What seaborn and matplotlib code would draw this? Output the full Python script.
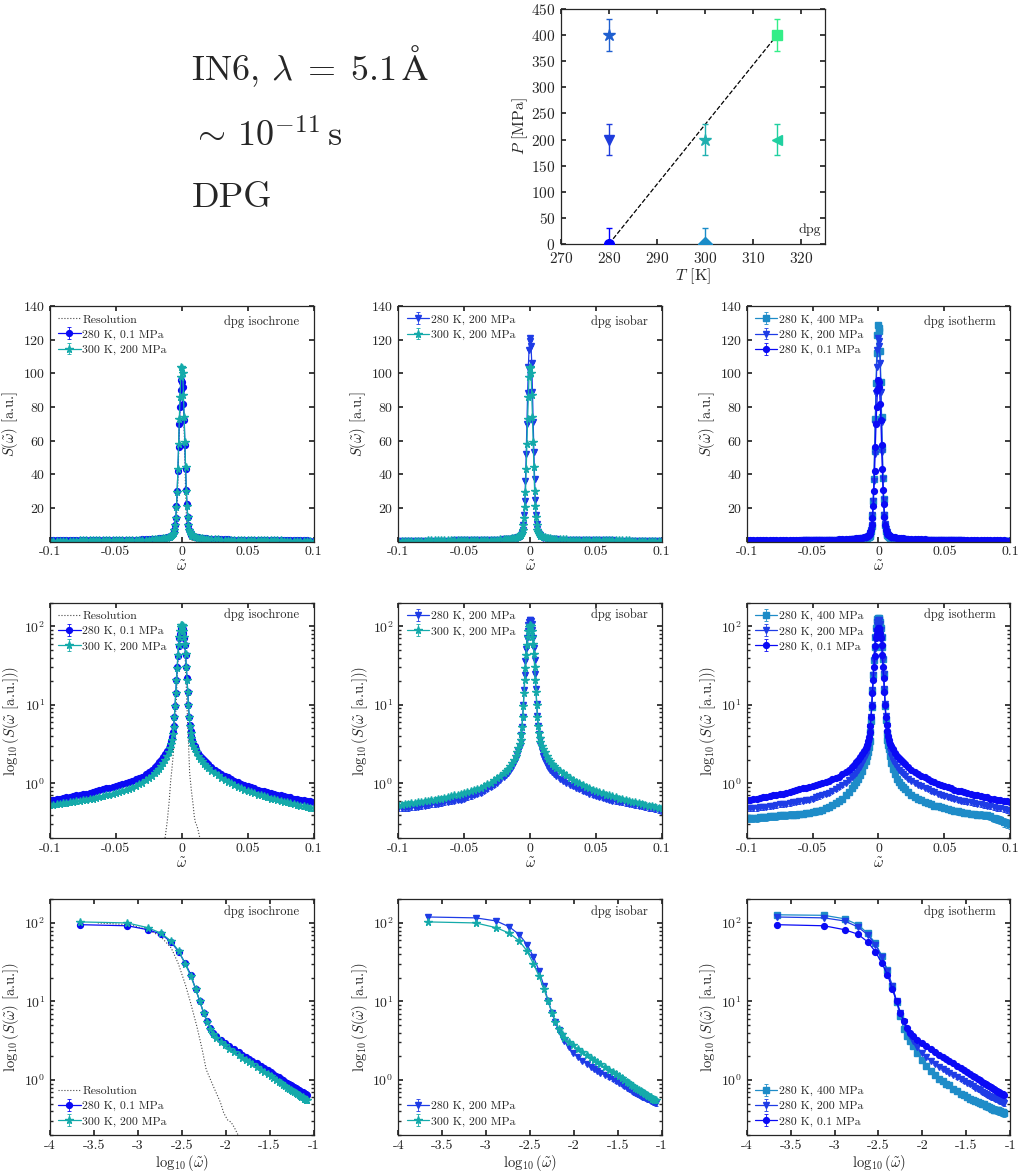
import numpy as np
import matplotlib
matplotlib.use("Agg")
import matplotlib.pyplot as plt
import seaborn as sns

# ---------------- data ----------------
# positive frequency grid (omega tilde); negative side uses the same magnitudes
W = [0.00022, 0.00076, 0.0013, 0.00184, 0.00238, 0.00292, 0.00346, 0.004, 0.00454, 0.00508,
     0.00562, 0.00616, 0.0067, 0.00724, 0.00778,
     0.0088, 0.0098, 0.011, 0.0125, 0.014, 0.0155, 0.017, 0.0185,
     0.02, 0.0225, 0.025, 0.0275, 0.03, 0.0325, 0.035, 0.0375, 0.04, 0.0425, 0.045, 0.0475,
     0.05, 0.0525, 0.055, 0.0575, 0.06, 0.0625, 0.065, 0.0675, 0.07, 0.0725, 0.075, 0.0775,
     0.08, 0.0825, 0.085, 0.0875, 0.09, 0.0925, 0.095, 0.0975, 0.1]

# 280 K, 0.1 MPa
p01_pos = [95, 92, 82, 72, 57.5, 43, 30.6, 22, 14.5, 10, 7.1, 5.6, 4.6, 4.0, 3.6,
           3.2, 2.95, 2.7, 2.45, 2.25, 2.1, 1.97, 1.86,
           1.75, 1.62, 1.5, 1.4, 1.32, 1.25, 1.19, 1.13, 1.08, 1.03, 0.99, 0.95, 0.92, 0.89, 0.86,
           0.83, 0.81, 0.79, 0.77, 0.75, 0.73, 0.71, 0.7, 0.68, 0.67, 0.66, 0.64, 0.63, 0.62,
           0.61, 0.6, 0.59, 0.58]
p01_neg = [96, 90, 80, 70, 56, 42, 30, 21, 14, 9.8, 7.0, 5.4, 4.5, 3.9, 3.5,
           3.1, 2.85, 2.6, 2.35, 2.15, 1.98, 1.85, 1.72,
           1.62, 1.5, 1.4, 1.3, 1.22, 1.16, 1.12, 1.08, 1.04, 1.0, 0.97, 0.95, 0.92, 0.9, 0.88,
           0.86, 0.84, 0.82, 0.8, 0.78, 0.76, 0.74, 0.73, 0.71, 0.7, 0.68, 0.67, 0.66, 0.65,
           0.64, 0.63, 0.62, 0.61]
# 300 K, 200 MPa
t300_pos = [103, 100, 87, 74, 59, 44, 30, 21, 14.5, 10, 7.1, 5.4, 4.4, 3.8, 3.4,
            3.0, 2.75, 2.5, 2.25, 2.05, 1.9, 1.78, 1.68,
            1.58, 1.45, 1.35, 1.26, 1.18, 1.11, 1.05, 1.0, 0.95, 0.91, 0.87, 0.83, 0.8, 0.77, 0.75,
            0.72, 0.7, 0.68, 0.66, 0.64, 0.63, 0.61, 0.6, 0.58, 0.57, 0.56, 0.55, 0.53, 0.52,
            0.51, 0.5, 0.49, 0.48]
t300_neg = [104, 98, 86, 73, 58, 43, 29.5, 20.5, 14, 9.7, 6.9, 5.2, 4.2, 3.6, 3.2,
            2.8, 2.5, 2.25, 2.0, 1.8, 1.65, 1.52, 1.42,
            1.35, 1.25, 1.17, 1.1, 1.02, 0.97, 0.92, 0.88, 0.85, 0.82, 0.79, 0.77, 0.75, 0.73, 0.71,
            0.7, 0.68, 0.67, 0.65, 0.64, 0.63, 0.62, 0.61, 0.6, 0.59, 0.58, 0.57, 0.56, 0.555,
            0.55, 0.54, 0.535, 0.53]
# 280 K, 200 MPa
p200_pos = [119, 116, 106, 89, 71, 53, 37, 24.6, 15.8, 10.2, 7.2, 5.4, 4.3, 3.6, 3.1,
            2.6, 2.2, 1.95, 1.75, 1.6, 1.48, 1.38, 1.3,
            1.24, 1.15, 1.08, 1.02, 0.96, 0.92, 0.88, 0.84, 0.8, 0.77, 0.74, 0.71, 0.69, 0.67, 0.65,
            0.63, 0.61, 0.6, 0.59, 0.58, 0.57, 0.56, 0.55, 0.54, 0.53, 0.52, 0.51, 0.5, 0.49,
            0.48, 0.47, 0.46, 0.45]
p200_neg = [121, 114, 104, 88, 70, 52, 36, 24, 15.5, 10, 7.0, 5.2, 4.1, 3.4, 2.9,
            2.6, 2.3, 2.05, 1.8, 1.62, 1.48, 1.37, 1.28,
            1.2, 1.1, 1.02, 0.95, 0.89, 0.84, 0.8, 0.76, 0.73, 0.7, 0.68, 0.66, 0.64, 0.62, 0.61,
            0.6, 0.59, 0.58, 0.57, 0.56, 0.55, 0.545, 0.54, 0.53, 0.52, 0.51, 0.505, 0.5, 0.495,
            0.49, 0.485, 0.48, 0.48]
# 280 K, 400 MPa
p400_pos = [127, 125, 113, 95, 74, 55, 38, 25, 15.5, 9.8, 6.5, 4.4, 3.6, 3.1, 2.7,
            2.2, 1.8, 1.52, 1.3, 1.15, 1.04, 0.96, 0.9,
            0.85, 0.77, 0.72, 0.67, 0.64, 0.61, 0.58, 0.56, 0.54, 0.52, 0.51, 0.5, 0.49, 0.47, 0.46,
            0.45, 0.44, 0.43, 0.42, 0.42, 0.41, 0.41, 0.4, 0.4, 0.39, 0.39, 0.38, 0.36, 0.35,
            0.34, 0.32, 0.31, 0.3]
p400_neg = [129, 123, 112, 94, 73, 54, 37, 24, 15, 9.5, 6.3, 4.5, 3.5, 2.9, 2.5,
            2.2, 1.95, 1.7, 1.45, 1.28, 1.14, 1.03, 0.95,
            0.88, 0.78, 0.7, 0.64, 0.6, 0.56, 0.53, 0.5, 0.48, 0.46, 0.45, 0.44, 0.43, 0.42, 0.42,
            0.41, 0.41, 0.4, 0.4, 0.4, 0.39, 0.39, 0.39, 0.38, 0.38, 0.38, 0.37, 0.37, 0.37,
            0.36, 0.36, 0.36, 0.36]
S_ERR = 0.04  # approx. error bar half-width [a.u.]
LOG_CUT = 0.0851  # bottom row only shows omega up to ~0.085

# instrument resolution
res_w = [-0.0135, -0.0125, -0.011, -0.0095, -0.0084, -0.0075, -0.0066, -0.0058, -0.005,
         -0.0044, -0.0038, -0.0032, -0.0026, -0.002, -0.0014, -0.0008, -0.0003,
         0.00035, 0.0008, 0.0013, 0.0018, 0.0024, 0.0029, 0.0035, 0.004, 0.0047, 0.0054,
         0.006, 0.0072, 0.0087, 0.0095, 0.0105, 0.0115, 0.0125, 0.0135, 0.015]
res_s = [0.17, 0.21, 0.33, 0.6, 1.08, 1.5, 2.2, 3.9, 5.5, 9.3, 16, 28, 45, 64, 80, 94, 100,
         100, 95, 82, 68, 48, 30, 16, 9.5, 4.8, 2.45, 1.36, 0.84, 0.52, 0.38, 0.31, 0.29,
         0.25, 0.21, 0.17]

# P-T state points
pt_T = [280, 280, 280, 300, 300, 315, 315]
pt_P = [0.1, 200, 400, 0.1, 200, 200, 400]
pt_err = 30
pt_markers = ["o", "v", "*", "D", "*", "<", "s"]
pt_colors = ["#0000ff", "#1e3cdc", "#1f5fd0", "#1a8cc8", "#20b0b0", "#20d0a0", "#33ee88"]
iso_T = [280, 315]
iso_P = [0.1, 400]

series = {
    "p01": dict(pos=p01_pos, neg=p01_neg, label="280 K, 0.1 MPa", color="#0a0af5", marker="o"),
    "t300": dict(pos=t300_pos, neg=t300_neg, label="300 K, 200 MPa", color="#14aaaa", marker="*"),
    "p200": dict(pos=p200_pos, neg=p200_neg, label="280 K, 200 MPa", color="#1e3ce6", marker="v"),
    "p400": dict(pos=p400_pos, neg=p400_neg, label="280 K, 400 MPa", color="#1e8cc8", marker="s"),
}
columns = [("dpg isochrone", ["p01", "t300"], True),
           ("dpg isobar", ["p200", "t300"], False),
           ("dpg isotherm", ["p400", "p200", "p01"], False)]

# ---------------- style ----------------
sns.set_theme(style="ticks")
plt.rcParams.update({
    "font.family": "serif",
    "font.serif": ["cmr10", "DejaVu Serif"],
    "mathtext.fontset": "cm",
    "axes.unicode_minus": False,
    "axes.formatter.use_mathtext": True,
    "axes.edgecolor": "#262626",
    "axes.linewidth": 0.9,
    "xtick.direction": "in", "ytick.direction": "in",
    "xtick.top": True, "ytick.right": True,
    "xtick.color": "#262626", "ytick.color": "#262626",
    "xtick.labelsize": 10, "ytick.labelsize": 10,
    "xtick.major.size": 3.5, "ytick.major.size": 3.5,
    "xtick.minor.size": 2, "ytick.minor.size": 2,
    "axes.labelsize": 10.5, "axes.labelcolor": "#262626",
})

FW, FH = 1018, 1175
fig = plt.figure(figsize=(FW / 100, FH / 100), dpi=100)


def px_axes(left, top, w, h):
    return fig.add_axes([left / FW, 1 - (top + h) / FH, w / FW, h / FH])


# ---------------- header text ----------------
fig.text(0.188, 1 - 80 / FH, r"IN6, $\lambda\;=\;5.1\,\mathrm{\AA}$", fontsize=26, va="baseline")
fig.text(0.188, 1 - 147 / FH, r"$\sim\,10^{-11}\,\mathrm{s}$", fontsize=26, va="baseline")
fig.text(0.188, 1 - 207 / FH, "DPG", fontsize=26, va="baseline")

# ---------------- P-T diagram ----------------
ax = px_axes(561, 9, 264, 235)
sns.lineplot(x=iso_T, y=iso_P, ax=ax, color="black", linestyle="--", linewidth=0.9, zorder=1)
for T, P, m, c in zip(pt_T, pt_P, pt_markers, pt_colors):
    ax.errorbar(T, P, yerr=pt_err, fmt=m, color=c, ms=9 if m == "*" else 7,
                elinewidth=1, capsize=2.5, capthick=1, zorder=3)
ax.set_xlim(270, 325)
ax.set_ylim(0, 450)
ax.set_xticks([270, 280, 290, 300, 310, 320])
ax.set_yticks(range(0, 451, 50))
ax.tick_params(labelsize=11)
ax.tick_params(axis="x", pad=5)
ax.tick_params(axis="y", pad=4)
ax.set_xlabel(r"$T$ [K]", labelpad=0, fontsize=11.5)
ax.set_ylabel(r"$P$ [MPa]", labelpad=1, fontsize=11.5)
ax.text(0.985, 0.035, "dpg", transform=ax.transAxes, ha="right", va="bottom", fontsize=10)

# ---------------- 3x3 spectra panels ----------------
lefts = [50, 398.3, 746.7]
tops = [306, 602.7, 899.3]
AW, AH = 263.5, 235.5
Wn = np.array(W)
xt_lin = [-0.1, -0.05, 0, 0.05, 0.1]
xt_lin_lab = ["-0.1", "-0.05", "0", "0.05", "0.1"]
xt_log = [-4, -3.5, -3, -2.5, -2, -1.5, -1]
xt_log_lab = ["-4", "-3.5", "-3", "-2.5", "-2", "-1.5", "-1"]

for ci, (title, keys, with_res) in enumerate(columns):
    for ri in range(3):
        ax = px_axes(lefts[ci], tops[ri], AW, AH)
        if with_res:
            rw = np.array(res_w)
            rs = np.array(res_s)
            if ri == 2:
                keep = rw > 0
                sns.lineplot(x=np.log10(rw[keep]), y=rs[keep], ax=ax, color="#444444",
                             linestyle=":", linewidth=0.8, label="Resolution", sort=False,
                             estimator=None, zorder=1)
            else:
                sns.lineplot(x=rw, y=rs, ax=ax, color="#444444", linestyle=":",
                             linewidth=0.8, label="Resolution", sort=False,
                             estimator=None, zorder=1)
        for k in keys:
            s = series[k]
            if ri == 2:
                keep = Wn <= LOG_CUT
                x = np.log10(Wn[keep])
                y = np.array(s["pos"])[keep]
            else:
                x = np.concatenate([-Wn[::-1], Wn])
                y = np.concatenate([np.array(s["neg"])[::-1], np.array(s["pos"])])
            ms = 5.5 if s["marker"] == "*" else 4.2
            ax.errorbar(x, y, yerr=S_ERR, color=s["color"], marker=s["marker"], ms=ms,
                        lw=0.9, elinewidth=0.6, capsize=1.2, capthick=0.6, label=s["label"],
                        zorder=2)

        if ri == 0:
            ax.set_ylim(0, 140)
            ax.set_yticks(range(20, 141, 20))
            ax.set_ylabel(r"$S(\tilde{\omega})$ [a.u.]", labelpad=2)
        else:
            ax.set_yscale("log")
            ax.set_ylim(0.2, 200)
            if ri == 1:
                ax.set_ylabel(r"$\log_{10}(S(\tilde{\omega}$ [a.u.]))", labelpad=2)
            else:
                ax.set_ylabel(r"$\log_{10}(S(\tilde{\omega})$ [a.u.])", labelpad=2)
        if ri < 2:
            ax.set_xlim(-0.1, 0.1)
            ax.set_xticks(xt_lin)
            ax.set_xticklabels(xt_lin_lab)
            ax.set_xlabel(r"$\tilde{\omega}$", labelpad=1)
        else:
            ax.set_xlim(-4, -1)
            ax.set_xticks(xt_log)
            ax.set_xticklabels(xt_log_lab)
            ax.set_xlabel(r"$\log_{10}(\tilde{\omega})$", labelpad=1)

        off = 16 if ri == 0 else 12
        ax.text(1 - 14 / AW, 1 - off / AH, title, transform=ax.transAxes,
                ha="right", va="center", fontsize=9)
        ax.legend(loc="lower left" if ri == 2 else "upper left", frameon=False, fontsize=8.5,
                  handlelength=1.9, handletextpad=0.15, labelspacing=0.4,
                  borderaxespad=0.4, borderpad=0.3)

fig.savefig("out.png", dpi=100)
